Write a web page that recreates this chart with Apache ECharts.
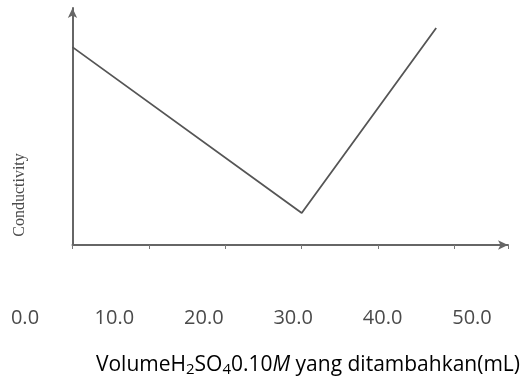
<!DOCTYPE html>
<html><head><meta charset="utf-8">
<script src="https://cdn.jsdelivr.net/npm/echarts@6/dist/echarts.min.js"></script>
<style>html,body{margin:0;padding:0;background:#fff}#c{width:529px;height:383px}</style>
</head><body><div id="c"></div>
<script>
// Data
const volumes = [0, 30, 47.6];
const conductivity = [83.5, 13.5, 91.6];
const tickValues = [0, 10, 20, 30, 40, 50];
const yTitle = 'Conductivity';
const xTitleParts = ['Volume', 'H', '2', 'SO', '4', '0.10', 'M', ' yang ditambahkan(mL)'];

const chart = echarts.init(document.getElementById('c'));
const txt = '#4a4a4a';
chart.setOption({
  animation: false,
  grid: [
    {left: 72.5, right: 21, top: 8, bottom: 138},
    {left: 25, right: 57, top: 307, height: 1}
  ],
  xAxis: [
    {gridIndex: 0, type: 'value', min: 0, max: 57, interval: 10,
     axisLine: {show: true, lineStyle: {color: '#666', width: 2}, symbol: ['none', 'arrow'], symbolSize: [7, 10]},
     axisTick: {show: true, length: 4, inside: false, lineStyle: {color: '#777', width: 1}},
     axisLabel: {show: false}, splitLine: {show: false}},
    {gridIndex: 1, type: 'value', min: 0, max: 50, interval: 10,
     axisLine: {show: false}, axisTick: {show: false}, splitLine: {show: false},
     axisLabel: {show: true, color: txt, fontFamily: 'Open Sans', fontSize: 20, margin: 0,
       formatter: v => tickValues.includes(v) ? v.toFixed(1) : ''}}
  ],
  yAxis: [
    {gridIndex: 0, type: 'value', min: 0, max: 100,
     axisLine: {show: true, lineStyle: {color: '#666', width: 2}, symbol: ['none', 'arrow'], symbolSize: [7, 10]},
     axisTick: {show: false}, axisLabel: {show: false}, splitLine: {show: false}},
    {gridIndex: 1, type: 'value', show: false}
  ],
  graphic: [
    {type: 'text', x: 20, y: 195, rotation: Math.PI/2,
     style: {text: yTitle, font: '16px "Liberation Serif"', fill: txt, align: 'center', verticalAlign: 'middle'}},
    {type: 'text', x: 308, y: 365,
     style: {
       text: '{n|' + xTitleParts[0] + xTitleParts[1] + '}{s|' + xTitleParts[2] + '}{n|' + xTitleParts[3] + '}{s|' + xTitleParts[4] + '}{n|' + xTitleParts[5] + '}{i|' + xTitleParts[6] + '}{n|' + xTitleParts[7] + '}',
       align: 'center', verticalAlign: 'middle',
       rich: {
         n: {fontFamily: 'Open Sans', fontSize: 21, color: txt},
         i: {fontFamily: 'Open Sans', fontSize: 21, fontStyle: 'italic', color: txt},
         s: {fontFamily: 'Open Sans', fontSize: 15, color: txt, padding: [9, 0, 0, 0]}
       }
     }}
  ],
  series: [{
    type: 'line', xAxisIndex: 0, yAxisIndex: 0,
    data: volumes.map((v, i) => [v, conductivity[i]]),
    showSymbol: false, symbol: 'none',
    lineStyle: {color: '#555', width: 1.8}
  }]
});
</script></body></html>
